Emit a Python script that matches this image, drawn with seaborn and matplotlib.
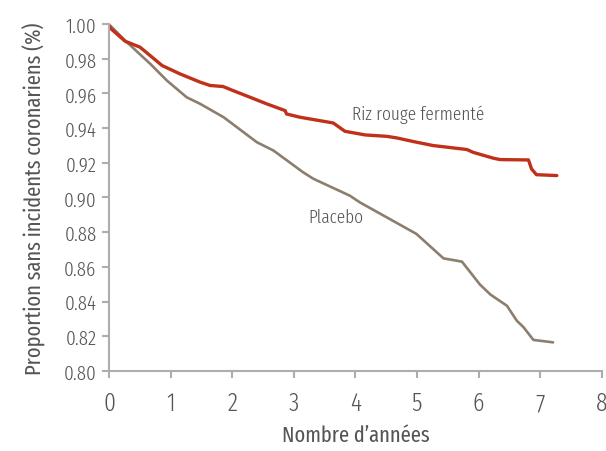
import pandas as pd
import numpy as np
import matplotlib.pyplot as plt
import seaborn as sns

# Courbes (années, proportion)
riz_x = [0.0, 0.02, 0.26, 0.50, 0.58, 0.86, 1.15, 1.48, 1.64, 1.85, 2.01, 2.29, 2.56, 2.86, 2.88,
         3.10, 3.64, 3.83, 4.16, 4.51, 4.67, 4.94, 5.26, 5.81, 5.91, 6.24, 6.35, 6.81, 6.86, 6.94, 7.27]
riz_y = [0.999, 0.9975, 0.990, 0.9866, 0.9843, 0.976, 0.9712, 0.9664, 0.9645, 0.9639, 0.9616, 0.9577,
         0.9539, 0.950, 0.9481, 0.9462, 0.9429, 0.9381, 0.936, 0.9352, 0.9343, 0.9322, 0.9299, 0.9276,
         0.926, 0.9226, 0.9218, 0.9216, 0.9164, 0.9131, 0.9126]

placebo_x = [0.0, 0.02, 0.26, 0.67, 0.94, 1.26, 1.48, 1.86, 2.40, 2.67, 3.15, 3.32, 3.91, 4.07, 4.99,
             5.43, 5.73, 6.02, 6.19, 6.46, 6.62, 6.73, 6.89, 7.21]
placebo_y = [0.999, 0.999, 0.9904, 0.9769, 0.9673, 0.9577, 0.9539, 0.9462, 0.9318, 0.927, 0.9145,
             0.9107, 0.901, 0.8972, 0.879, 0.8649, 0.863, 0.8499, 0.8441, 0.8376, 0.829, 0.8252,
             0.8179, 0.8165]

x_ticks = [0, 1, 2, 3, 4, 5, 6, 7, 8]
y_ticks = [0.80, 0.82, 0.84, 0.86, 0.88, 0.90, 0.92, 0.94, 0.96, 0.98, 1.00]

df_riz = pd.DataFrame({'annees': riz_x, 'prop': riz_y})
df_pla = pd.DataFrame({'annees': placebo_x, 'prop': placebo_y})

sns.set_style('ticks')
# police condensée proche de l'original
plt.rcParams['font.family'] = ['Fira Sans Extra Condensed', 'DejaVu Sans']
plt.rcParams['font.weight'] = 300

txt = '#555555'
axc = '#adadad'

fig = plt.figure(figsize=(6.06, 4.52), dpi=100)
ax = fig.add_axes([0.18, 0.177, 0.813, 0.768])

sns.lineplot(data=df_pla, x='annees', y='prop', ax=ax, color='#8c7e6e', linewidth=1.9)
sns.lineplot(data=df_riz, x='annees', y='prop', ax=ax, color='#c0301a', linewidth=2.4)

ax.text(5.02, 0.948, 'Riz rouge fermenté', color=txt, fontsize=13.5, ha='center', va='center')
ax.text(3.68, 0.889, 'Placebo', color=txt, fontsize=13.5, ha='center', va='center')

ax.set_xlim(0, 8)
ax.set_ylim(0.80, 1.00)
ax.set_xticks(x_ticks)
ax.set_yticks(y_ticks)
ax.set_yticklabels([f'{v:.2f}' for v in y_ticks])
ax.set_xlabel('Nombre d’années', color=txt, fontsize=16, labelpad=6)
ax.set_ylabel('Proportion sans incidents coronariens (%)', color=txt, fontsize=16, labelpad=13)
ax.tick_params(colors=axc, labelcolor=txt, length=5, width=1.5)
ax.tick_params(axis='y', labelsize=15, pad=4)
ax.tick_params(axis='x', labelsize=18.5, pad=9)
sns.despine(ax=ax)
for s in ['left', 'bottom']:
    ax.spines[s].set_color(axc)
    ax.spines[s].set_linewidth(1.5)

plt.savefig('out.png', dpi=100)
